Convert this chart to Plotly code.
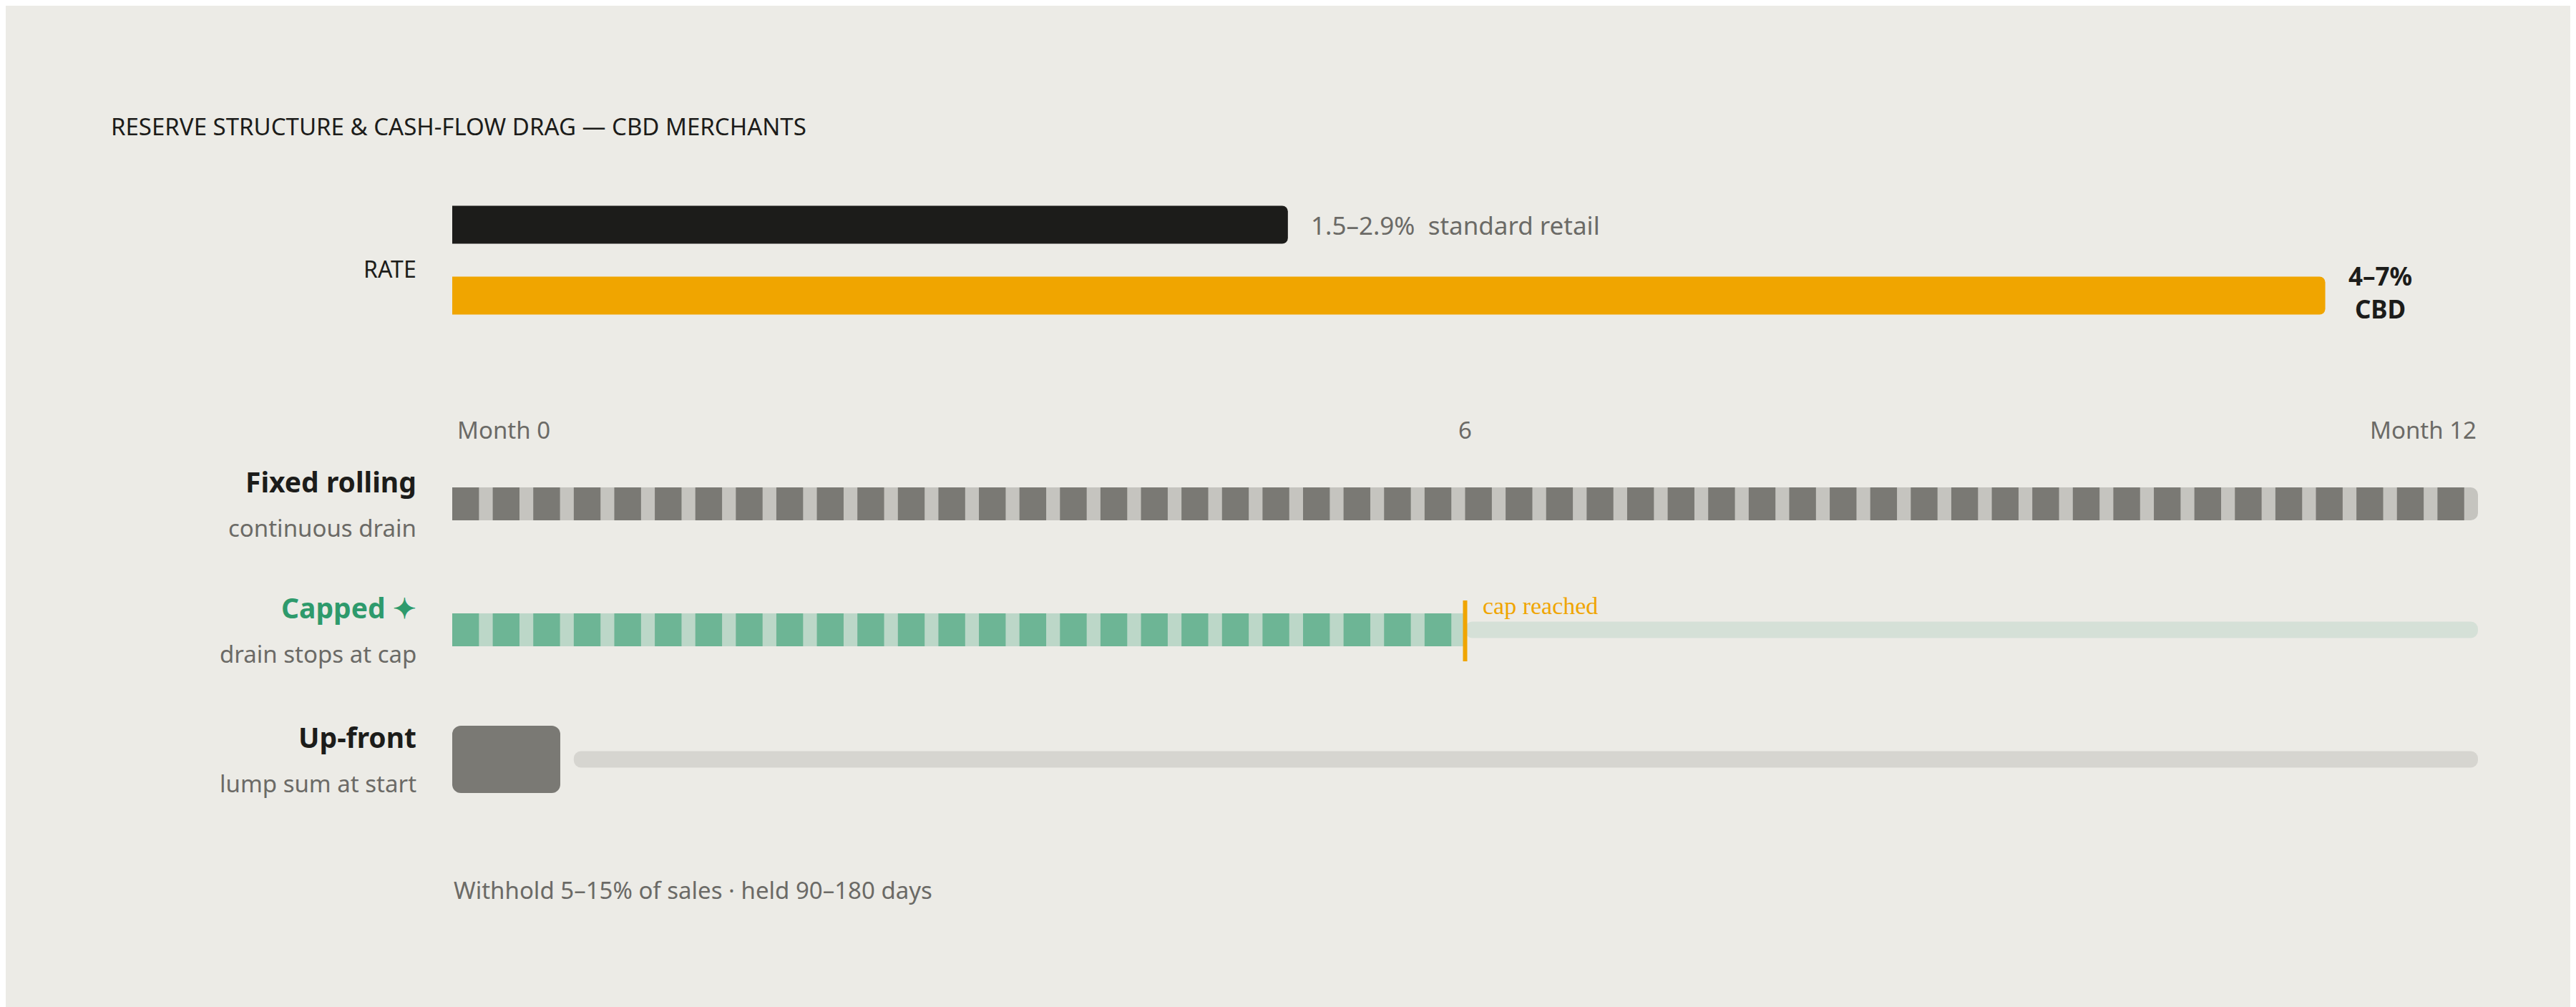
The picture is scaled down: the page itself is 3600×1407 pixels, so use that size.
import plotly.graph_objects as go

# rate comparison (bar length on a % scale)
rate_labels = ["1.5–2.9%  standard retail", "4–7%<br>CBD"]
rate_values = [2.9, 6.5]
rate_colors = ["#1c1c1a", "#f0a500"]

# reserve timeline, months
months_total = 12
cap_month = 6
upfront_months = 0.64
stripes_per_year = 50
tick_months = [0, 6, 12]
tick_text = ["Month 0", "6", "Month 12"]

rows = ["Fixed rolling", "Capped ✦", "Up-front"]
row_sub = ["continuous drain", "drain stops at cap", "lump sum at start"]
row_y = [696, 872, 1053]
rate_y = [306, 405]

W, H = 3600, 1407
BG = "#ecebe6"
FONT = "Noto Sans"

fig = go.Figure()

# rate bars
fig.add_trace(go.Bar(
    y=rate_y, x=rate_values, orientation="h", xaxis="x2", width=53,
    marker=dict(color=rate_colors, cornerradius=8, line=dict(width=0)),
    hoverinfo="skip"))

period = months_total / stripes_per_year
dark_w = period * 0.66

def stripes(row, end, light, dark, radius):
    fig.add_trace(go.Bar(y=[row], x=[end], base=[0], orientation="h", width=46,
                         marker=dict(color=light, cornerradius=radius, line=dict(width=0)),
                         hoverinfo="skip"))
    n = int(round(end / period))
    fig.add_trace(go.Bar(y=[row] * n, x=[dark_w] * n, base=[i * period for i in range(n)],
                         orientation="h", width=46,
                         marker=dict(color=dark, line=dict(width=0)), hoverinfo="skip"))

# fixed rolling
stripes(row_y[0], months_total, "#c5c4bf", "#7a7974", 10)

# capped: track after cap, stripes before
fig.add_trace(go.Bar(y=[row_y[1]], x=[months_total - cap_month], base=[cap_month], orientation="h",
                     width=23, marker=dict(color="#d5e0d7", cornerradius=10, line=dict(width=0)),
                     hoverinfo="skip"))
stripes(row_y[1], cap_month, "#bcd7c8", "#6db595", 0)
fig.add_trace(go.Scatter(x=[cap_month, cap_month], y=[831, 916], mode="lines",
                         line=dict(color="#f0a500", width=6), hoverinfo="skip"))

# up-front
fig.add_trace(go.Bar(y=[row_y[2]], x=[months_total - upfront_months - 0.08], base=[upfront_months + 0.08],
                     orientation="h", width=23,
                     marker=dict(color="#d6d5d0", cornerradius=10, line=dict(width=0)), hoverinfo="skip"))
fig.add_trace(go.Bar(y=[row_y[2]], x=[upfront_months], base=[0], orientation="h", width=94,
                     marker=dict(color="#7a7974", cornerradius=12, line=dict(width=0)), hoverinfo="skip"))

ann = []
ann.append(dict(text="RESERVE STRUCTURE &amp; CASH-FLOW DRAG — CBD MERCHANTS", xref="paper", yref="y",
                x=145 / W, y=168, xanchor="left", yanchor="middle",
                font=dict(size=33, color="#1c1c1a", family=FONT)))
ann.append(dict(text="RATE", xref="paper", yref="y", x=576 / W, y=367, xanchor="right",
                font=dict(size=32, color="#1c1c1a", family=FONT)))
ann.append(dict(text=rate_labels[0], xref="x2", yref="y", x=rate_values[0], y=rate_y[0], xanchor="left",
                xshift=30, font=dict(size=35, color="#6b6a66", family=FONT)))
ann.append(dict(text="<b>" + rate_labels[1] + "</b>", xref="x2", yref="y", x=rate_values[1], y=400,
                xanchor="left", xshift=30, font=dict(size=35, color="#1c1c1a", family=FONT),
                align="center"))
for m, t, a in zip(tick_months, tick_text, ["left", "center", "right"]):
    ann.append(dict(text=t, x=m, y=592, xref="x", yref="y", xanchor=a, xshift=5 if a == "left" else 0,
                    font=dict(size=33, color="#6b6a66", family=FONT)))
title_colors = ["#1c1c1a", "#2e9a6c", "#1c1c1a"]
for r, s, y, c in zip(rows, row_sub, row_y, title_colors):
    ann.append(dict(text="<b>" + r + "</b>", xref="paper", yref="y", x=576 / W, y=y - 32,
                    xanchor="right", font=dict(size=39, color=c, family=FONT)))
    ann.append(dict(text=s, xref="paper", yref="y", x=576 / W, y=y + 33,
                    xanchor="right", font=dict(size=33, color="#6b6a66", family=FONT)))
ann.append(dict(text="cap reached", x=cap_month, y=838, xref="x", yref="y", xanchor="left", xshift=22,
                font=dict(size=34, color="#f0a500", family="Liberation Serif")))
ann.append(dict(text="Withhold 5–15% of sales · held 90–180 days", xref="paper", yref="y", x=624 / W, y=1235,
                xanchor="left", font=dict(size=33, color="#6b6a66", family=FONT)))
for a in ann:
    a["showarrow"] = False

dom = [624 / W, 3455 / W]
fig.update_layout(
    width=W, height=H, paper_bgcolor=BG, plot_bgcolor=BG, showlegend=False,
    barmode="overlay", margin=dict(l=0, r=0, t=0, b=0),
    xaxis=dict(range=[0, months_total], domain=dom, visible=False, fixedrange=True),
    xaxis2=dict(range=[0, 7.03], domain=dom, visible=False, overlaying="x", anchor="y"),
    yaxis=dict(range=[H, 0], visible=False),
    annotations=ann,
)
fig.write_html("out.html")
